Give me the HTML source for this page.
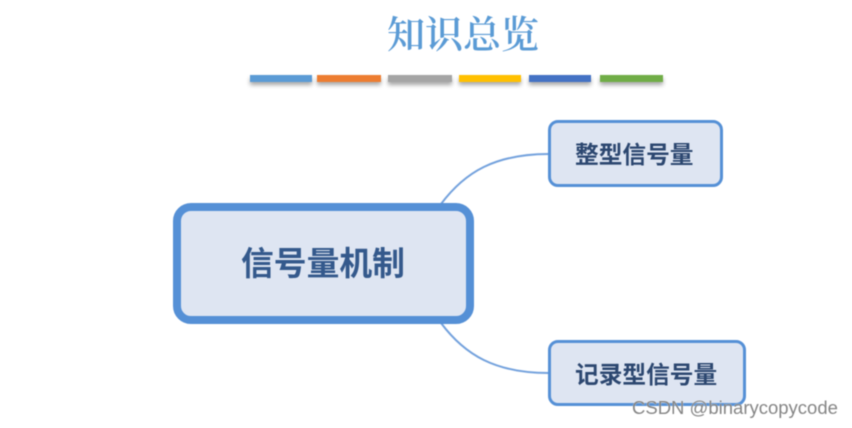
<!DOCTYPE html>
<html><head><meta charset="utf-8">
<style>
html,body{margin:0;padding:0;background:#fff}
#p{position:relative;width:852px;height:428px;overflow:hidden;background:#fff;font-family:"Liberation Sans","Noto Sans CJK SC",sans-serif}
#b{position:absolute;left:0;top:0;width:852px;height:428px;filter:blur(0.5px)}
.a{position:absolute;box-sizing:border-box}
.bar{top:75px;height:7px;box-shadow:0 3px 4px rgba(0,0,0,.35)}
.n{background:#dee5f2;border:3px solid #5590d6;border-radius:10px}
.t{position:absolute;white-space:nowrap;line-height:1;font-weight:700}
</style></head><body>
<div id="p"><div id="b">
<div class="t" style="left:387px;top:17px;font-size:38px;font-weight:600;color:#5b9bd5;font-family:'Liberation Serif','Noto Serif CJK SC',serif">知识总览</div>
<div class="a bar" style="left:250px;width:62px;background:#5b9bd5"></div>
<div class="a bar" style="left:317px;width:64px;background:#ed7d31"></div>
<div class="a bar" style="left:388px;width:64px;background:#a5a5a5"></div>
<div class="a bar" style="left:459px;width:62px;background:#ffc000"></div>
<div class="a bar" style="left:529px;width:62px;background:#4472c4"></div>
<div class="a bar" style="left:600px;width:63px;background:#70ad47"></div>
<svg class="a" style="left:0;top:0" width="852" height="428">
<path d="M441 204C465 172 495 154 549 154" fill="none" stroke="#74a2dd" stroke-width="2"/>
<path d="M441 323C465 355 495 373 549 373" fill="none" stroke="#74a2dd" stroke-width="2"/>
</svg>
<div class="a n" style="left:173px;top:203px;width:301px;height:121px;border-width:8px;border-radius:18px"></div>
<div class="t" style="left:241px;top:248px;font-size:32.8px;color:#34598c">信号量机制</div>
<div class="a n" style="left:548px;top:120px;width:175px;height:67px"></div>
<div class="t" style="left:575px;top:145px;font-size:23.7px;color:#2c4770">整型信号量</div>
<div class="a n" style="left:548px;top:340px;width:198px;height:66px"></div>
<div class="t" style="left:575px;top:365px;font-size:23.7px;color:#2c4770">记录型信号量</div>
<div class="t" style="left:632px;top:399px;font-size:18.5px;font-weight:400;color:#858585;text-shadow:0 0 1px #fff">CSDN @binarycopycode</div>
</div></div>
</body></html>
